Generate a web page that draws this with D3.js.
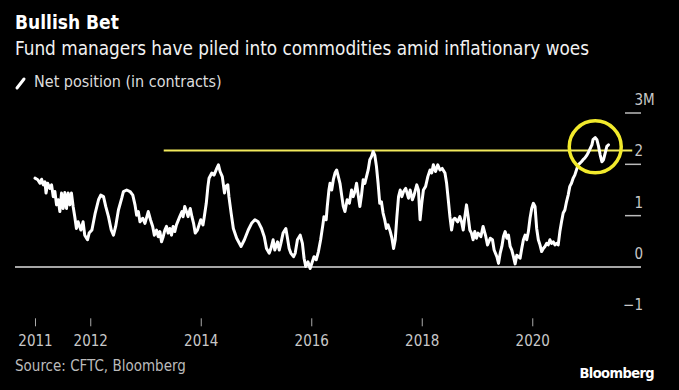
<!DOCTYPE html>
<html><head><meta charset="utf-8">
<script src="https://cdn.jsdelivr.net/npm/d3@7"></script>
<style>body{margin:0;background:#000;} svg{display:block}</style>
</head><body>
<script>
// Net position of fund managers in commodities (millions of contracts)
const dates = [
2011.00,2011.05,2011.09,2011.12,2011.15,2011.18,2011.20,2011.23,2011.27,2011.30,2011.33,2011.36,2011.39,2011.42,2011.45,2011.48,2011.51,2011.54,2011.57,2011.60,2011.63,2011.66,2011.69,2011.72,2011.75,2011.78,2011.83,2011.87,2011.90,2011.95,2011.98,
2012.03,2012.09,2012.15,2012.19,2012.24,2012.28,2012.33,2012.38,2012.42,2012.46,2012.51,2012.57,2012.60,2012.66,2012.72,2012.77,2012.81,2012.84,2012.87,2012.90,2012.95,2012.99,
2013.05,2013.09,2013.13,2013.16,2013.20,2013.23,2013.26,2013.29,2013.32,2013.35,2013.38,2013.41,2013.44,2013.47,2013.50,2013.53,2013.56,2013.62,2013.66,2013.68,2013.71,2013.75,2013.77,2013.81,2013.84,2013.87,2013.90,2013.94,2013.97,
2014.00,2014.04,2014.06,2014.10,2014.13,2014.15,2014.20,2014.24,2014.29,2014.32,2014.35,2014.39,2014.43,2014.45,2014.49,2014.51,2014.55,2014.59,2014.65,2014.73,2014.79,2014.86,2014.92,2014.98,
2015.04,2015.10,2015.15,2015.19,2015.24,2015.27,2015.31,2015.34,2015.39,2015.42,2015.45,2015.49,2015.54,2015.57,2015.60,2015.63,2015.68,2015.71,2015.75,2015.80,2015.84,2015.87,2015.90,2015.94,2015.98,
2016.02,2016.05,2016.09,2016.13,2016.17,2016.21,2016.23,2016.27,2016.29,2016.32,2016.34,2016.37,2016.40,2016.43,2016.46,2016.49,2016.52,2016.55,2016.58,2016.61,2016.65,2016.69,2016.73,2016.76,2016.79,2016.82,2016.85,2016.88,2016.91,2016.94,2016.97,
2017.00,2017.03,2017.06,2017.09,2017.12,2017.15,2017.18,2017.21,2017.24,2017.27,2017.30,2017.33,2017.36,2017.39,2017.43,2017.46,2017.49,2017.52,2017.55,2017.58,2017.61,2017.64,2017.67,2017.71,2017.76,2017.79,2017.83,2017.86,2017.91,2017.94,2017.97,
2018.00,2018.03,2018.07,2018.11,2018.15,2018.18,2018.21,2018.25,2018.29,2018.33,2018.37,2018.42,2018.45,2018.48,2018.51,2018.54,2018.57,2018.60,2018.65,2018.69,2018.72,2018.75,2018.78,2018.81,2018.84,2018.87,2018.90,2018.93,2018.96,2018.99,
2019.02,2019.07,2019.11,2019.16,2019.19,2019.24,2019.28,2019.31,2019.36,2019.39,2019.42,2019.45,2019.48,2019.51,2019.54,2019.57,2019.60,2019.63,2019.66,2019.69,2019.72,2019.75,2019.78,2019.81,2019.84,2019.87,2019.90,2019.93,2019.96,2019.99,
2020.02,2020.05,2020.08,2020.11,2020.14,2020.17,2020.20,2020.23,2020.26,2020.29,2020.32,2020.35,2020.38,2020.41,2020.44,2020.47,2020.50,2020.53,2020.56,2020.59,2020.62,2020.65,2020.68,2020.71,2020.74,2020.77,2020.80,2020.83,2020.86,2020.89,2020.92,2020.95,2020.99,
2021.01,2021.05,2021.08,2021.10,2021.14,2021.17,2021.20,2021.23,2021.26,2021.29,2021.32,2021.35,2021.38
];
const netPosition = [
1.73,1.70,1.63,1.71,1.60,1.66,1.44,1.63,1.53,1.60,1.37,1.47,1.21,1.31,1.08,1.44,1.14,1.45,1.14,1.44,1.21,1.44,1.18,0.98,0.75,0.88,0.72,0.88,0.62,0.53,0.66,
0.72,1.05,1.31,1.40,1.37,1.18,0.98,0.72,0.62,0.79,1.11,1.34,1.47,1.50,1.47,1.40,1.21,1.01,1.08,0.88,0.95,0.85,
1.08,0.92,0.79,0.62,0.72,0.59,0.69,0.49,0.59,0.72,0.79,0.66,0.75,0.62,0.79,0.69,0.82,0.98,1.08,0.98,1.18,1.05,0.98,1.14,0.98,0.85,0.66,0.72,0.82,
0.92,0.82,0.95,1.24,1.57,1.73,1.83,1.79,1.92,1.99,1.86,1.76,1.44,1.57,1.60,1.37,1.05,0.75,0.56,0.40,0.53,0.72,0.85,0.92,
0.88,0.75,0.59,0.36,0.27,0.36,0.53,0.33,0.49,0.33,0.46,0.66,0.75,0.56,0.36,0.27,0.20,0.27,0.53,0.62,0.46,0.17,0.01,0.10,-0.03,
0.10,0.20,0.14,0.30,0.53,0.82,0.98,0.92,1.18,1.50,1.63,1.50,1.70,1.83,1.89,1.76,1.63,1.40,1.18,1.08,1.31,1.24,1.50,1.37,1.47,1.63,1.40,1.18,1.40,1.70,1.63,
1.76,1.89,2.09,2.15,2.25,2.18,1.96,1.63,1.24,1.27,1.05,0.92,0.75,0.82,0.69,0.56,0.36,0.53,0.98,1.37,1.50,1.37,1.47,1.53,1.34,1.50,1.31,1.40,1.60,1.50,0.92,
1.24,1.50,1.57,1.76,1.89,1.83,1.99,1.86,1.99,1.89,1.92,1.83,1.63,1.31,0.98,0.72,0.92,0.95,0.88,0.98,0.88,0.72,0.98,1.21,0.98,0.72,0.66,0.53,0.69,0.56,
0.66,0.59,0.79,0.59,0.43,0.56,0.53,0.33,0.20,0.07,0.27,0.40,0.60,0.69,0.56,0.62,0.40,0.33,0.20,0.06,0.23,0.20,0.17,0.36,0.53,0.62,0.53,0.69,0.95,1.14,
1.24,1.18,0.75,0.53,0.43,0.30,0.36,0.40,0.46,0.43,0.53,0.46,0.49,0.43,0.46,0.43,0.69,0.88,1.05,1.11,1.27,1.40,1.57,1.63,1.73,1.79,1.89,1.99,2.02,2.05,2.09,2.12,2.18,
2.22,2.31,2.38,2.48,2.52,2.48,2.35,2.18,2.05,2.09,2.22,2.35,2.38
];
const xTickYears = [2011, 2012, 2014, 2016, 2018, 2020];
const yTickValues = [-1, 0, 1, 2, 3];
const yStubValues = [1, 2, 3];
const refLine = { level: 2.27, start: 2013.33, end: 2021.81 };
const highlight = { year: 2021.14, value: 2.34 };

const titleText = "Bullish Bet";
const subtitleText = "Fund managers have piled into commodities amid inflationary woes";
const legendText = "Net position (in contracts)";
const sourceText = "Source: CFTC, Bloomberg";
const brandText = "Bloomberg";

const W = 679, H = 390;
const FONT = "'Liberation Sans Narrow','DejaVu Sans Condensed','Liberation Sans',sans-serif";
const svg = d3.select("body").append("svg").attr("width", W).attr("height", H)
  .style("background", "#000").style("font-family", FONT);

const x = d3.scaleLinear().domain([2011, 2021]).range([35, 587.5]);
const y = d3.scaleLinear().domain([-1, 3]).range([318.3, 113]);

// Titles
svg.append("text").attr("x", 15).attr("y", 29).attr("fill", "#fff")
  .attr("font-size", 19).attr("font-weight", "bold").text(titleText);
svg.append("text").attr("x", 15).attr("y", 55).attr("fill", "#f2f2f2")
  .attr("font-size", 18.8).text(subtitleText);
// Legend
svg.append("line").attr("x1", 17).attr("y1", 88).attr("x2", 24).attr("y2", 79)
  .attr("stroke", "#fff").attr("stroke-width", 3).attr("stroke-linecap", "round");
svg.append("text").attr("x", 34).attr("y", 87).attr("fill", "#ddd")
  .attr("font-size", 16).text(legendText);

// Right axis stubs and labels
svg.append("g").selectAll("line").data(yStubValues).join("line")
  .attr("x1", 625).attr("x2", 641).attr("y1", d => y(d)).attr("y2", d => y(d))
  .attr("stroke", "#bbb").attr("stroke-width", 1.5);
const yl = svg.append("g").attr("fill", "#c8c8c8").attr("font-size", 15);
yl.selectAll("text.num").data(yTickValues).join("text").attr("class", "num")
  .attr("x", 643).attr("y", d => y(d) - 8).attr("text-anchor", "end")
  .text(d => d3.format("d")(d));
yl.append("text").attr("x", 643).attr("y", y(3) - 8).text("M");

// Zero line
svg.append("line").attr("x1", 15).attr("x2", 641).attr("y1", y(0)).attr("y2", y(0))
  .attr("stroke", "#a6a6a6").attr("stroke-width", 2);

// X axis
const xAxis = svg.append("g").attr("transform", `translate(0,${y(-1)})`)
  .call(d3.axisBottom(x).tickValues(xTickYears).tickFormat(d3.format("d")).tickSize(8).tickPadding(9));
xAxis.select(".domain").remove();
xAxis.selectAll(".tick line").attr("stroke", "#aaa");
xAxis.selectAll(".tick text").attr("fill", "#c8c8c8").attr("font-size", 15).style("font-family", FONT);

// Reference line
svg.append("line").attr("x1", x(refLine.start)).attr("x2", x(refLine.end))
  .attr("y1", y(refLine.level)).attr("y2", y(refLine.level))
  .attr("stroke", "#f2ea5c").attr("stroke-width", 2);

// Series line
const series = dates.map((d, i) => ({ t: d, v: netPosition[i] }));
svg.append("path").datum(series)
  .attr("d", d3.line().x(d => x(d.t)).y(d => y(d.v)))
  .attr("fill", "none").attr("stroke", "#fff").attr("stroke-width", 3)
  .attr("stroke-linejoin", "round").attr("stroke-linecap", "round");

// Highlight circle
svg.append("circle").attr("cx", x(highlight.year)).attr("cy", y(highlight.value)).attr("r", 26)
  .attr("fill", "none").attr("stroke", "#f2ea2c").attr("stroke-width", 3.5);

// Footer
svg.append("text").attr("x", 15).attr("y", 371).attr("fill", "#bbb")
  .attr("font-size", 15).text(sourceText);
svg.append("text").attr("x", 654).attr("y", 378).attr("text-anchor", "end").attr("fill", "#fff")
  .attr("font-size", 14.5).attr("font-weight", "bold").attr("letter-spacing", -0.6).text(brandText);
</script>
</body></html>
